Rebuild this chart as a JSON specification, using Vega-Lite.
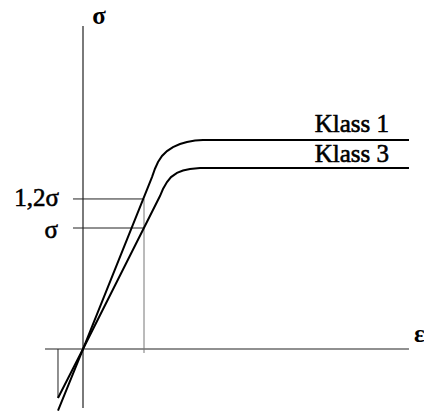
{
  "$schema": "https://vega.github.io/schema/vega-lite/v6.json",
  "width": 424,
  "height": 419,
  "autosize": {"type": "none"},
  "padding": 0,
  "background": "white",
  "config": {"view": {"stroke": null}},
  "datasets": {
    "curves": [
      {"series": "Klass 1", "order": 1, "e": -0.41, "s": -0.51},
      {"series": "Klass 1", "order": 2, "e": 0, "s": 0},
      {"series": "Klass 1", "order": 3, "e": 1.131, "s": 1.421},
      {"series": "Klass 1", "order": 4, "e": 1.18, "s": 1.49},
      {"series": "Klass 1", "order": 5, "e": 1.23, "s": 1.545},
      {"series": "Klass 1", "order": 6, "e": 1.295, "s": 1.595},
      {"series": "Klass 1", "order": 7, "e": 1.377, "s": 1.636},
      {"series": "Klass 1", "order": 8, "e": 1.475, "s": 1.669},
      {"series": "Klass 1", "order": 9, "e": 1.59, "s": 1.694},
      {"series": "Klass 1", "order": 10, "e": 1.705, "s": 1.711},
      {"series": "Klass 1", "order": 11, "e": 1.836, "s": 1.723},
      {"series": "Klass 1", "order": 12, "e": 1.967, "s": 1.727},
      {"series": "Klass 1", "order": 13, "e": 5.344, "s": 1.727},
      {"series": "Klass 3", "order": 1, "e": -0.41, "s": -0.405},
      {"series": "Klass 3", "order": 2, "e": 0, "s": 0},
      {"series": "Klass 3", "order": 3, "e": 1.262, "s": 1.264},
      {"series": "Klass 3", "order": 4, "e": 1.311, "s": 1.322},
      {"series": "Klass 3", "order": 5, "e": 1.377, "s": 1.38},
      {"series": "Klass 3", "order": 6, "e": 1.443, "s": 1.421},
      {"series": "Klass 3", "order": 7, "e": 1.541, "s": 1.455},
      {"series": "Klass 3", "order": 8, "e": 1.639, "s": 1.475},
      {"series": "Klass 3", "order": 9, "e": 1.754, "s": 1.488},
      {"series": "Klass 3", "order": 10, "e": 1.918, "s": 1.496},
      {"series": "Klass 3", "order": 11, "e": 2.082, "s": 1.496},
      {"series": "Klass 3", "order": 12, "e": 5.344, "s": 1.496}
    ],
    "rules": [
      {"kind": "axis", "e1": 0, "e2": 0, "s1": 2.67, "s2": -0.488},
      {"kind": "axis", "e1": -0.623, "e2": 5.344, "s1": 0, "s2": 0},
      {"kind": "guide", "e1": -0.164, "e2": 1.0, "s1": 1.24, "s2": 1.24},
      {"kind": "guide", "e1": -0.164, "e2": 1.0, "s1": 1.0, "s2": 1.0},
      {"kind": "guide", "e1": -0.41, "e2": -0.41, "s1": 0, "s2": -0.405},
      {"kind": "vguide", "e1": 1.0, "e2": 1.0, "s1": 1.24, "s2": -0.033}
    ],
    "labels": [
      {"align": "center", "text": "σ", "e": 0.262, "s": 2.686},
      {"align": "right", "text": "1,2σ", "e": -0.393, "s": 1.182},
      {"align": "right", "text": "σ", "e": -0.41, "s": 0.917},
      {"align": "right", "text": "Klass 1", "e": 5.016, "s": 1.793},
      {"align": "right", "text": "Klass 3", "e": 5.016, "s": 1.545},
      {"align": "left", "text": "ε", "e": 5.426, "s": 0.058}
    ]
  },
  "layer": [
    {
      "data": {"name": "rules"},
      "transform": [{"filter": "datum.kind === 'axis'"}],
      "mark": {"type": "rule", "color": "#222", "strokeWidth": 1.2},
      "encoding": {
        "x": {"field": "e1", "type": "quantitative", "scale": {"domain": [-1.3607, 5.5902], "nice": false, "zero": false}, "axis": null},
        "x2": {"field": "e2"},
        "y": {"field": "s1", "type": "quantitative", "scale": {"domain": [-0.5785, 2.8843], "nice": false, "zero": false}, "axis": null},
        "y2": {"field": "s2"}
      }
    },
    {
      "data": {"name": "rules"},
      "transform": [{"filter": "datum.kind === 'guide'"}],
      "mark": {"type": "rule", "color": "#222", "strokeWidth": 1},
      "encoding": {
        "x": {"field": "e1", "type": "quantitative", "scale": {"domain": [-1.3607, 5.5902], "nice": false, "zero": false}, "axis": null},
        "x2": {"field": "e2"},
        "y": {"field": "s1", "type": "quantitative", "scale": {"domain": [-0.5785, 2.8843], "nice": false, "zero": false}, "axis": null},
        "y2": {"field": "s2"}
      }
    },
    {
      "data": {"name": "rules"},
      "transform": [{"filter": "datum.kind === 'vguide'"}],
      "mark": {"type": "rule", "color": "#777", "strokeWidth": 1},
      "encoding": {
        "x": {"field": "e1", "type": "quantitative", "scale": {"domain": [-1.3607, 5.5902], "nice": false, "zero": false}, "axis": null},
        "x2": {"field": "e2"},
        "y": {"field": "s1", "type": "quantitative", "scale": {"domain": [-0.5785, 2.8843], "nice": false, "zero": false}, "axis": null},
        "y2": {"field": "s2"}
      }
    },
    {
      "data": {"name": "curves"},
      "mark": {"type": "line", "color": "black", "strokeWidth": 2, "interpolate": "linear"},
      "encoding": {
        "x": {"field": "e", "type": "quantitative", "scale": {"domain": [-1.3607, 5.5902], "nice": false, "zero": false}, "axis": null},
        "y": {"field": "s", "type": "quantitative", "scale": {"domain": [-0.5785, 2.8843], "nice": false, "zero": false}, "axis": null},
        "detail": {"field": "series", "type": "nominal"},
        "order": {"field": "order", "type": "quantitative"}
      }
    },
    {
      "data": {"name": "labels"},
      "transform": [{"filter": "datum.align === 'right'"}],
      "mark": {"type": "text", "align": "right", "baseline": "alphabetic", "font": "Liberation Serif", "fontSize": 25, "color": "black", "stroke": "black", "strokeWidth": 0.6},
      "encoding": {
        "x": {"field": "e", "type": "quantitative", "scale": {"domain": [-1.3607, 5.5902], "nice": false, "zero": false}, "axis": null},
        "y": {"field": "s", "type": "quantitative", "scale": {"domain": [-0.5785, 2.8843], "nice": false, "zero": false}, "axis": null},
        "text": {"field": "text", "type": "nominal"}
      }
    },
    {
      "data": {"name": "labels"},
      "transform": [{"filter": "datum.align === 'center'"}],
      "mark": {"type": "text", "align": "center", "baseline": "alphabetic", "font": "Liberation Serif", "fontSize": 25, "fontWeight": "bold", "color": "black"},
      "encoding": {
        "x": {"field": "e", "type": "quantitative", "scale": {"domain": [-1.3607, 5.5902], "nice": false, "zero": false}, "axis": null},
        "y": {"field": "s", "type": "quantitative", "scale": {"domain": [-0.5785, 2.8843], "nice": false, "zero": false}, "axis": null},
        "text": {"field": "text", "type": "nominal"}
      }
    },
    {
      "data": {"name": "labels"},
      "transform": [{"filter": "datum.align === 'left'"}],
      "mark": {"type": "text", "align": "left", "baseline": "alphabetic", "font": "Liberation Serif", "fontSize": 25, "fontWeight": "bold", "color": "black"},
      "encoding": {
        "x": {"field": "e", "type": "quantitative", "scale": {"domain": [-1.3607, 5.5902], "nice": false, "zero": false}, "axis": null},
        "y": {"field": "s", "type": "quantitative", "scale": {"domain": [-0.5785, 2.8843], "nice": false, "zero": false}, "axis": null},
        "text": {"field": "text", "type": "nominal"}
      }
    }
  ]
}
